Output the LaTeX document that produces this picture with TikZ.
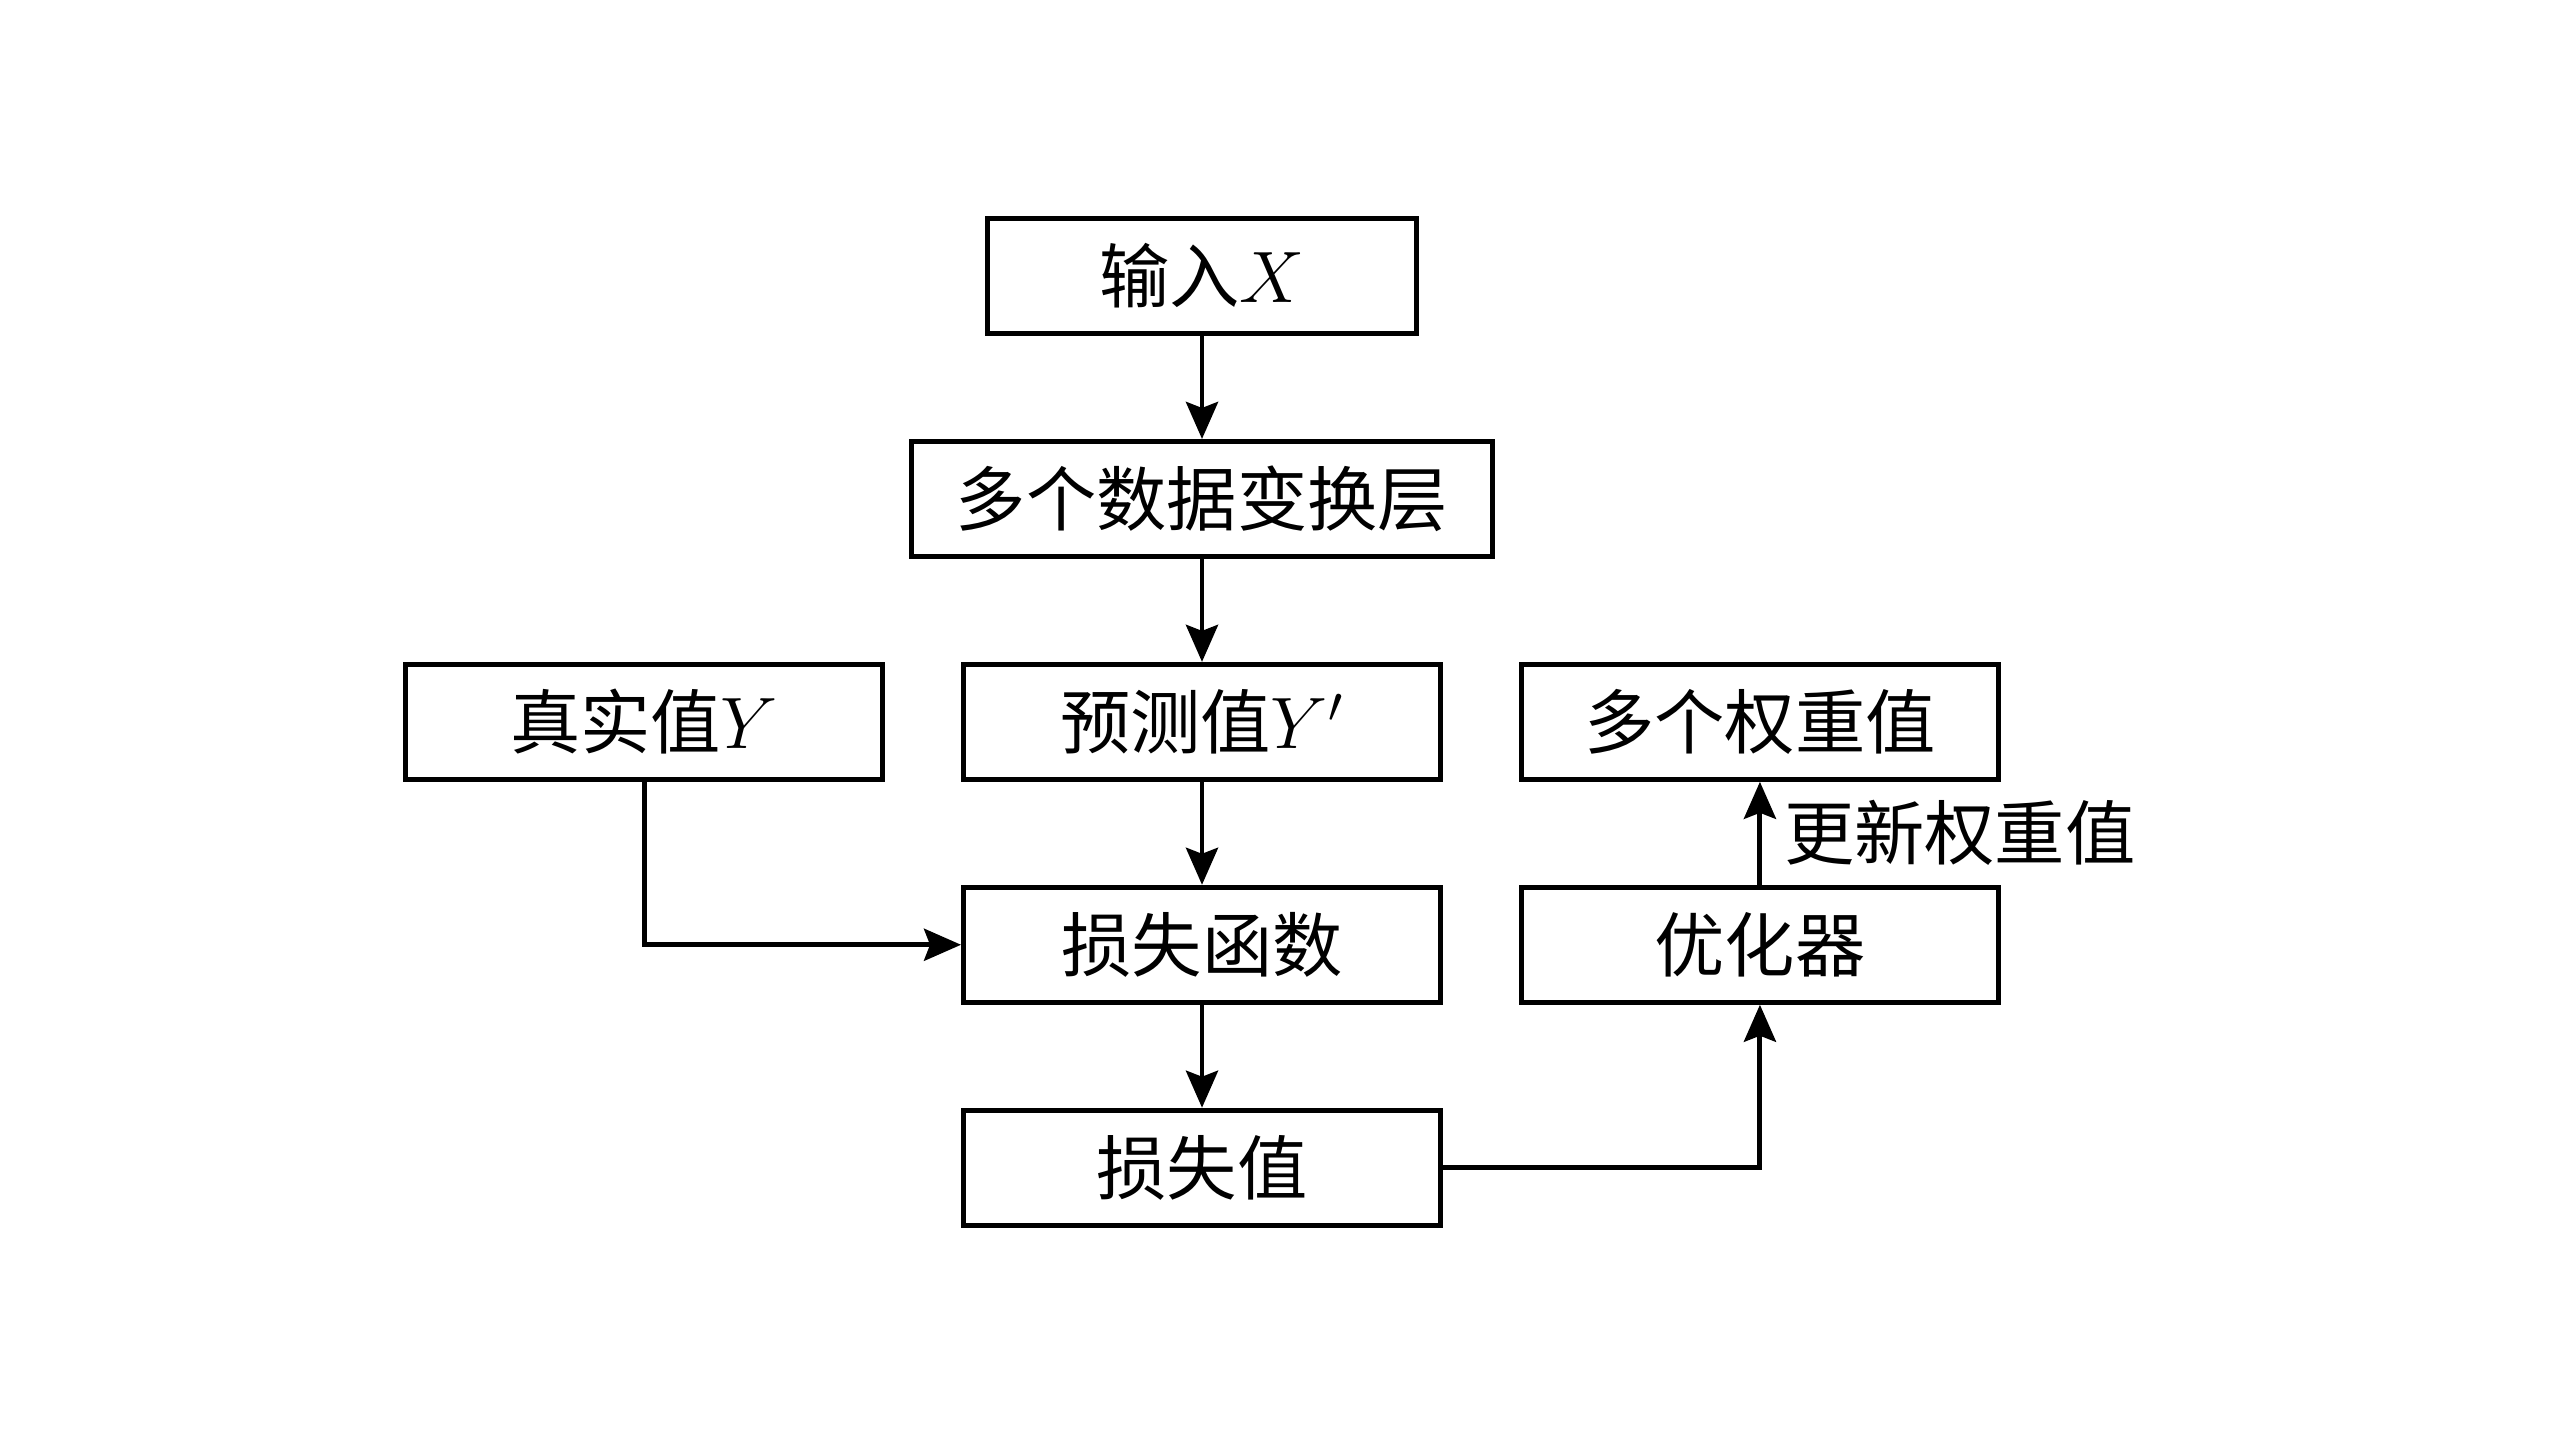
\documentclass[tikz,border=0pt]{standalone}
\usepackage{fontspec}
\setmainfont{Noto Sans CJK SC}
\usetikzlibrary{positioning,arrows.meta}

\begin{document}
\begin{tikzpicture}[
    node distance=1.03cm and 0.76cm,
    block/.style={
        rectangle,
        draw=black,
        line width=1.4pt,
        minimum width=4.77cm,
        minimum height=1.15cm,
        align=center,
        font=\fontsize{20}{24}\selectfont
    },
    arrow/.style={
        -{Stealth[length=0.37cm,width=0.32cm,inset=0.06cm]},
        line width=1.4pt,
        black
    }
]
\useasboundingbox (0,0) rectangle (25.6,-14.4);

% Blocchi principali
\node[block, minimum width=4.29cm] (input) at (12.02,-2.76) {输入$X$};
\node[block, minimum width=5.81cm, below=of input] (layers) {多个数据变换层};
\node[block, below=of layers] (pred) {预测值$Y'$};
\node[block, left=of pred] (truth) {真实值$Y$};
\node[block, right=of pred] (weights) {多个权重值};
\node[block, below=of pred] (lossfn) {损失函数};
\node[block, below=of weights] (optim) {优化器};
\node[block, below=of lossfn] (lossval) {损失值};

% Frecce
\draw[arrow] (input) -- (layers);
\draw[arrow] (layers) -- (pred);
\draw[arrow] (pred) -- (lossfn);
\draw[arrow] (truth) |- (lossfn);
\draw[arrow] (lossfn) -- (lossval);
\draw[arrow] (lossval) -| (optim);
\draw[arrow] (optim) -- (weights) node[midway, right, xshift=0.1cm, font=\fontsize{20}{24}\selectfont] {更新权重值};

\end{tikzpicture}
\end{document}
